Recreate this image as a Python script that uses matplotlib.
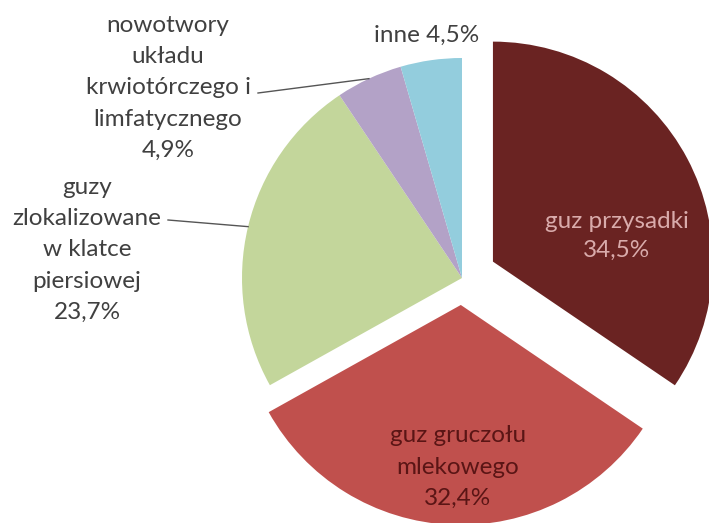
import numpy as np
import matplotlib
matplotlib.use('Agg')
import matplotlib.pyplot as plt

plt.rcParams['font.family'] = ['Lato', 'DejaVu Sans']

# shares of tumour types (%)
labels = ['guz przysadki', 'guz gruczołu\nmlekowego',
          'guzy\nzlokalizowane\nw klatce\npiersiowej',
          'nowotwory\nukładu\nkrwiotórczego i\nlimfatycznego', 'inne']
values = [34.5, 32.4, 23.7, 4.9, 4.5]
colors = ['#6A2322', '#C0504D', '#C3D69B', '#B3A2C7', '#93CDDD']

def pct(v):
    return f'{v:.1f}'.replace('.', ',') + '%'

W, H = 709, 523
fig = plt.figure(figsize=(W / 100, H / 100), dpi=100)
ax = fig.add_axes([0, 0, 1, 1])

cx, cy, R = 462, H - 278, 220
wedges, _ = ax.pie(values, colors=colors, startangle=90, counterclock=False,
                   center=(cx, cy), radius=R, explode=[35, 27, 0, 0, 0],
                   wedgeprops=dict(linewidth=0))
ax.set_xlim(0, W)
ax.set_ylim(0, H)
ax.set_aspect('equal')
ax.axis('off')

txt = '#404040'
fs = 17.5

# labels inside the two big slices
ax.text(617, H - 236, labels[0] + '\n' + pct(values[0]), ha='center', va='center',
        fontsize=fs, color='#D9ABAB', linespacing=1.46)
ax.text(458, H - 467, labels[1] + '\n' + pct(values[1]), ha='center', va='center',
        fontsize=fs, color='#5A1515', linespacing=1.6)

# outside labels with leader lines
ax.text(427, H - 35, labels[4] + ' ' + pct(values[4]), ha='center', va='center',
        fontsize=fs, color=txt)
ax.text(168, H - 88, labels[3] + '\n' + pct(values[3]), ha='center', va='center',
        fontsize=fs, color=txt, linespacing=1.6)
ax.text(87, H - 250, labels[2] + '\n' + pct(values[2]), ha='center', va='center',
        fontsize=fs, color=txt, linespacing=1.6)

def arc_point(w):
    th = np.deg2rad((w.theta1 + w.theta2) / 2)
    x0, y0 = w.center
    return x0 + w.r * np.cos(th), y0 + w.r * np.sin(th)

for w, start in [(wedges[3], (258, H - 93)), (wedges[2], (168, H - 220))]:
    px, py = arc_point(w)
    ax.plot([start[0], px], [start[1], py], color='#555555', lw=1.0)

fig.savefig('out.png', dpi=100)
